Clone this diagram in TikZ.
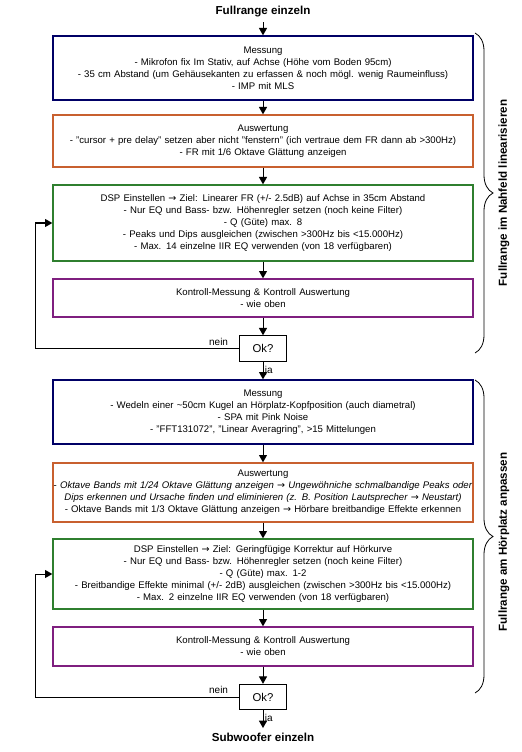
\documentclass[tikz,border=0pt]{standalone}
\usepackage{fontspec}
\setmainfont{Liberation Sans}
\newfontfamily\arrowfont{DejaVu Sans}
\usetikzlibrary{arrows.meta, positioning, decorations.pathreplacing}
\definecolor{Navy}{HTML}{000066}
\definecolor{Rust}{HTML}{C8602F}
\definecolor{Moss}{HTML}{2F7F2F}
\definecolor{Plum}{HTML}{7F1F7F}
\newcommand{\pfeil}{{\arrowfont →}}

\begin{document}
\begin{tikzpicture}[x=0.75pt, y=-0.75pt,
    stepbox/.style={draw, line width=1pt, fill=white, text width=311pt, inner xsep=2pt, align=center, font=\fontsize{7.2}{9}\selectfont},
    okbox/.style={draw, line width=0.8pt, minimum width=35.25pt, minimum height=19pt, inner sep=0pt, font=\fontsize{8.5}{10}\selectfont},
    flow/.style={-{Triangle[width=6pt,length=5.5pt]}, line width=0.75pt},
    tag/.style={font=\fontsize{7.5}{8}\selectfont, inner sep=1pt},
    headline/.style={font=\bfseries\fontsize{8.7}{10}\selectfont},
    curly/.style={decorate, decoration={brace, amplitude=13.5pt}, line width=0.6pt}]
    \useasboundingbox (0,0) rectangle (521,752);

    \node[headline] (start) at (263,12) {Fullrange einzeln};

    % Nahfeld
    \node[stepbox, draw=Navy, minimum height=48pt] (mess1) at (263,68) {Messung\\
        - Mikrofon fix Im Stativ, auf Achse (Höhe vom Boden 95cm)\\
        - 35 cm Abstand (um Gehäusekanten zu erfassen \& noch mögl. wenig Raumeinfluss)\\
        - IMP mit MLS};
    \node[stepbox, draw=Rust, minimum height=39pt] (ausw1) at (263,141) {Auswertung\\
        - "cursor + pre delay" setzen aber nicht "fenstern" (ich vertraue dem FR dann ab >300Hz)\\
        - FR mit 1/6 Oktave Glättung anzeigen};
    \node[stepbox, draw=Moss, minimum height=57pt] (dsp1) at (263,223) {DSP Einstellen \pfeil{} Ziel: Linearer FR (+/- 2.5dB) auf Achse in 35cm Abstand\\
        - Nur EQ und Bass- bzw. Höhenregler setzen (noch keine Filter)\\
        - Q (Güte) max. 8\\
        - Peaks und Dips ausgleichen (zwischen >300Hz bis <15.000Hz)\\
        - Max. 14 einzelne IIR EQ verwenden (von 18 verfügbaren)};
    \node[stepbox, draw=Plum, minimum height=28.5pt] (kontr1) at (263,298) {Kontroll-Messung \& Kontroll Auswertung\\
        - wie oben};
    \node[okbox] (ok1) at (263,348.5) {Ok?};

    \draw[flow] (start) -- (mess1);
    \draw[flow] (mess1) -- (ausw1);
    \draw[flow] (ausw1) -- (dsp1);
    \draw[flow] (dsp1) -- (kontr1);
    \draw[flow] (kontr1) -- (ok1);
    \coordinate (back1) at (35,348.5);
    \draw[flow] (ok1.west) -- (back1) |- (dsp1.west);
    \node[tag, anchor=south east] at ([xshift=-7pt, yshift=1pt]ok1.west) {nein};

    % Hoerplatz
    \node[stepbox, draw=Navy, minimum height=48pt] (mess2) at (263,412) {Messung\\
        - Wedeln einer \textasciitilde50cm Kugel an Hörplatz-Kopfposition (auch diametral)\\
        - SPA mit Pink Noise\\
        - "FFT131072", "Linear Averagring", >15 Mittelungen};
    \node[stepbox, draw=Rust, minimum height=44.25pt] (ausw2) at (263,492.5) {Auswertung\\
        \makebox[\linewidth][c]{- \textit{Oktave Bands mit 1/24 Oktave Glättung anzeigen \pfeil{} Ungewöhniche schmalbandige Peaks oder}}\\
        \makebox[\linewidth][c]{\textit{Dips erkennen und Ursache finden und eliminieren (z. B. Position Lautsprecher \pfeil{} Neustart)}}\\
        - Oktave Bands mit 1/3 Oktave Glättung anzeigen \pfeil{} Hörbare breitbandige Effekte erkennen};
    \node[stepbox, draw=Moss, minimum height=52.5pt] (dsp2) at (263,574) {DSP Einstellen \pfeil{} Ziel: Geringfügige Korrektur auf Hörkurve\\
        - Nur EQ und Bass- bzw. Höhenregler setzen (noch keine Filter)\\
        - Q (Güte) max. 1-2\\
        - Breitbandige Effekte minimal (+/- 2dB) ausgleichen (zwischen >300Hz bis <15.000Hz)\\
        - Max. 2 einzelne IIR EQ verwenden (von 18 verfügbaren)};
    \node[stepbox, draw=Plum, minimum height=29.25pt] (kontr2) at (263,646.5) {Kontroll-Messung \& Kontroll Auswertung\\
        - wie oben};
    \node[okbox] (ok2) at (263,697) {Ok?};
    \node[headline] (stop) at (263,737) {Subwoofer einzeln};

    \draw[flow] (ok1) -- node[tag, right] {ja} (mess2);
    \draw[flow] (mess2) -- (ausw2);
    \draw[flow] (ausw2) -- (dsp2);
    \draw[flow] (dsp2) -- (kontr2);
    \draw[flow] (kontr2) -- (ok2);
    \draw[flow] (ok2) -- node[tag, right] {ja} (stop);
    \coordinate (back2) at (35,697);
    \draw[flow] (ok2.west) -- (back2) |- (dsp2.west);
    \node[tag, anchor=south east] at ([xshift=-7pt, yshift=1pt]ok2.west) {nein};

    % Klammern
    \coordinate (top1) at (475,33);
    \coordinate (bot1) at (475,353);
    \draw[curly] (top1) -- (bot1);
    \node[headline, rotate=90] (phase1) at (504,193) {Fullrange im Nahfeld linearisieren};
    \coordinate (top2) at (475,380);
    \coordinate (bot2) at (475,693);
    \draw[curly] (top2) -- (bot2);
    \node[headline, rotate=90] (phase2) at (504,542) {Fullrange am Hörplatz anpassen};
\end{tikzpicture}
\end{document}
